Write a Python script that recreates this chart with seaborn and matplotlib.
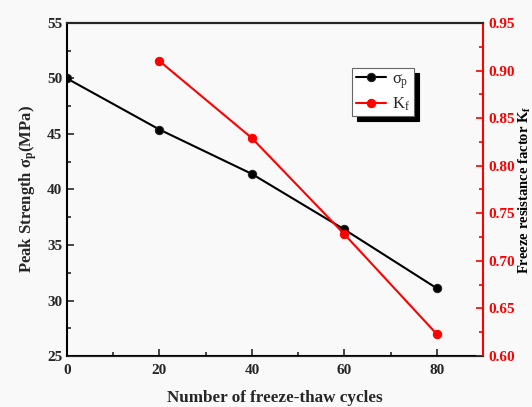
import matplotlib
matplotlib.use('Agg')
import matplotlib.pyplot as plt
import seaborn as sns
import pandas as pd
from matplotlib.ticker import MultipleLocator

sns.set_style('ticks')
plt.rcParams['font.family'] = ['Liberation Serif', 'DejaVu Serif']
plt.rcParams['mathtext.fontset'] = 'custom'
plt.rcParams['mathtext.rm'] = 'Liberation Serif'
plt.rcParams['mathtext.it'] = 'Liberation Serif'
plt.rcParams['mathtext.bf'] = 'Liberation Serif:bold'

cycles_sigma = [0, 20, 40, 60, 80]
sigma_p = [50.0, 45.4, 41.4, 36.4, 31.1]
cycles_kf = [20, 40, 60, 80]
k_f = [0.910, 0.829, 0.728, 0.623]

df_s = pd.DataFrame({'cycles': cycles_sigma, 'sigma': sigma_p})
df_k = pd.DataFrame({'cycles': cycles_kf, 'kf': k_f})

BG = '#f9f9f9'
fig = plt.figure(figsize=(5.32, 4.07), dpi=100, facecolor=BG)
ax = fig.add_axes([0.126, 0.1253, 0.782, 0.8182])
ax.set_facecolor(BG)
ax2 = ax.twinx()

sns.lineplot(data=df_s, x='cycles', y='sigma', ax=ax, color='black',
             marker='o', markersize=6, markeredgecolor='#222222',
             linewidth=1.5, label=r'$\sigma_\mathrm{p}$', legend=False)
sns.lineplot(data=df_k, x='cycles', y='kf', ax=ax2, color='red',
             marker='o', markersize=6, markeredgecolor='red',
             linewidth=1.5, label=r'$\mathrm{K_f}$', legend=False)

ax.set_xlim(0, 90)
ax.set_ylim(25, 55)
ax2.set_ylim(0.60, 0.95)
ax.xaxis.set_minor_locator(MultipleLocator(10))
ax.yaxis.set_minor_locator(MultipleLocator(2.5))
ax2.yaxis.set_minor_locator(MultipleLocator(0.025))

tick_font = dict(fontsize=11, fontweight='bold')
x_ticks = [0, 20, 40, 60, 80]
ax.set_xticks(x_ticks)
ax.set_xticklabels([str(t) for t in x_ticks], **tick_font)
y_ticks = [25, 30, 35, 40, 45, 50, 55]
ax.set_yticks(y_ticks)
ax.set_yticklabels([str(t) for t in y_ticks], **tick_font)
kf_ticks = [0.60, 0.65, 0.70, 0.75, 0.80, 0.85, 0.90, 0.95]
ax2.set_yticks(kf_ticks)
ax2.set_yticklabels([f'{t:.2f}' for t in kf_ticks], color='red', **tick_font)

ax.tick_params(axis='both', which='both', direction='in', top=False, right=False,
               width=1.2)
ax.tick_params(axis='x', pad=6)
ax.tick_params(which='major', length=5)
ax.tick_params(which='minor', length=3)
ax2.tick_params(axis='y', which='both', direction='in', colors='red', width=1.2)
ax2.tick_params(which='major', length=5)
ax2.tick_params(which='minor', length=3)

for s in ['left', 'bottom', 'top']:
    ax.spines[s].set_linewidth(1.5)
    ax.spines[s].set_color('black')
ax2.spines['right'].set_color('red')
ax2.spines['right'].set_linewidth(1.5)
ax2.spines['top'].set_linewidth(1.5)
ax2.spines['left'].set_visible(False)
ax.spines['right'].set_visible(False)

ax.set_xlabel('Number of freeze-thaw cycles', fontsize=12.3, fontweight='bold',
              labelpad=9)
ax.set_ylabel(r'Peak Strength $\mathbf{\sigma_p}$(MPa)', fontsize=12, fontweight='bold',
              labelpad=6)
ax2.set_ylabel(r'Freeze resistance factor $\mathbf{K_f}$', fontsize=10.5,
               fontweight='bold', color='black', labelpad=2)

h1, l1 = ax.get_legend_handles_labels()
h2, l2 = ax2.get_legend_handles_labels()
leg = ax2.legend(h1 + h2, l1 + l2, loc='upper left',
                 bbox_to_anchor=(0.686, 0.865), frameon=True, fancybox=False,
                 shadow={'color': 'black', 'alpha': 1, 'ox': 3.5, 'oy': -3.5},
                 fontsize=12, handlelength=1.8, borderpad=0.2, labelspacing=0.3,
                 handletextpad=0.4, borderaxespad=0)
leg.get_frame().set_edgecolor('#666666')
leg.get_frame().set_facecolor('white')
leg.get_frame().set_linewidth(0.8)

fig.savefig('out.png', dpi=100, facecolor=BG)
